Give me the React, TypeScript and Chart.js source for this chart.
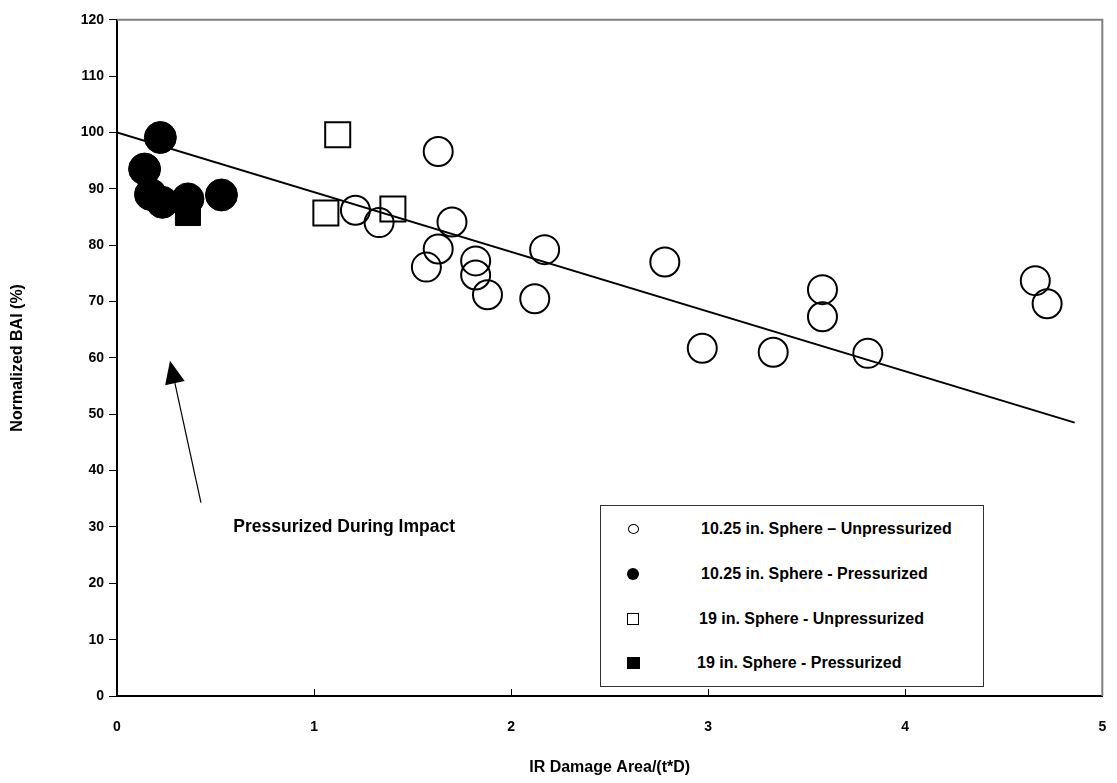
import React, { useEffect, useRef } from "react";
import { Chart, registerables } from "chart.js";

Chart.register(...registerables);

// ---- Data ----
const unpress10X = [1.21, 1.33, 1.63, 1.70, 1.63, 1.57, 1.82, 1.82, 1.88, 2.12, 2.17, 2.78, 2.97, 3.33, 3.58, 3.58, 3.81, 4.66, 4.72];
const unpress10Y = [86.2, 84.0, 96.6, 84.1, 79.3, 76.1, 77.2, 74.7, 71.2, 70.5, 79.2, 77.0, 61.7, 61.0, 72.1, 67.3, 60.8, 73.7, 69.6];

const press10X = [0.22, 0.14, 0.17, 0.23, 0.36, 0.53];
const press10Y = [99.1, 93.5, 89.0, 87.6, 88.2, 88.9];

const unpress19X = [1.12, 1.06, 1.40];
const unpress19Y = [99.6, 85.7, 86.4];

const press19X = [0.36];
const press19Y = [85.7];

const trendX = [0, 4.86];
const trendY = [100, 48.5];

const xTickValues = [0, 1, 2, 3, 4, 5];
const yTickValues = [0, 10, 20, 30, 40, 50, 60, 70, 80, 90, 100, 110, 120];

const seriesLabels = [
  "10.25 in. Sphere \u2013 Unpressurized",
  "10.25 in. Sphere - Pressurized",
  "19 in. Sphere - Unpressurized",
  "19 in. Sphere - Pressurized",
];

const xTitle = "IR Damage Area/(t*D)";
const yTitle = "Normalized BAI (%)";
const noteText = "Pressurized During Impact";
const noteAt = [0.59, 30];
const arrowTail = [0.426, 34.3];
const arrowTip = [0.269, 59.5];

const FONT = "'Liberation Sans', Arial, sans-serif";

const toPoints = (xs: number[], ys: number[]) => xs.map((x, i) => ({ x, y: ys[i] }));

const decorPlugin = {
  id: "decor",
  afterDraw(chart: any) {
    const { ctx, chartArea, scales } = chart;
    const xs = scales.x;
    const ys = scales.y;
    ctx.save();
    // top and right frame (gray)
    ctx.strokeStyle = "#808080";
    ctx.lineWidth = 2;
    ctx.beginPath();
    ctx.moveTo(chartArea.left, chartArea.top);
    ctx.lineTo(chartArea.right, chartArea.top);
    ctx.lineTo(chartArea.right, chartArea.bottom);
    ctx.stroke();
    // inward x tick marks
    ctx.strokeStyle = "#000";
    ctx.lineWidth = 1;
    xTickValues.forEach((v) => {
      if (v === 0 || v === 5) return;
      const px = Math.round(xs.getPixelForValue(v)) + 0.5;
      ctx.beginPath();
      ctx.moveTo(px, chartArea.bottom);
      ctx.lineTo(px, chartArea.bottom - 7);
      ctx.stroke();
    });
    // arrow
    const tx = xs.getPixelForValue(arrowTail[0]);
    const ty = ys.getPixelForValue(arrowTail[1]);
    const hx = xs.getPixelForValue(arrowTip[0]);
    const hy = ys.getPixelForValue(arrowTip[1]);
    const ang = Math.atan2(hy - ty, hx - tx);
    const headLen = 23;
    const headHalf = 10;
    const bx = hx - headLen * Math.cos(ang);
    const by = hy - headLen * Math.sin(ang);
    ctx.lineWidth = 1.2;
    ctx.beginPath();
    ctx.moveTo(tx, ty);
    ctx.lineTo(bx, by);
    ctx.stroke();
    ctx.fillStyle = "#000";
    ctx.beginPath();
    ctx.moveTo(hx, hy);
    ctx.lineTo(bx + headHalf * Math.sin(ang), by - headHalf * Math.cos(ang));
    ctx.lineTo(bx - headHalf * Math.sin(ang), by + headHalf * Math.cos(ang));
    ctx.closePath();
    ctx.fill();
    // annotation text
    ctx.font = `bold 17.5px ${FONT}`;
    ctx.textAlign = "left";
    ctx.textBaseline = "middle";
    ctx.fillText(noteText, xs.getPixelForValue(noteAt[0]), ys.getPixelForValue(noteAt[1]));
    ctx.restore();
  },
};

function LegendMarker({ kind }: { kind: number }) {
  const base: React.CSSProperties = { position: "absolute", boxSizing: "border-box" };
  if (kind === 0)
    return <span style={{ ...base, left: -5, top: -5, width: 11, height: 10, border: "1.5px solid #000", borderRadius: "50%", background: "#fff" }} />;
  if (kind === 1)
    return <span style={{ ...base, left: -6, top: -6, width: 12, height: 12, borderRadius: "50%", background: "#000" }} />;
  if (kind === 2)
    return <span style={{ ...base, left: -6, top: -6, width: 12, height: 12, border: "1.5px solid #000", background: "#fff" }} />;
  return <span style={{ ...base, left: -6, top: -6, width: 13, height: 12, background: "#000" }} />;
}

export default function App() {
  const canvasRef = useRef<HTMLCanvasElement | null>(null);

  useEffect(() => {
    const canvas = canvasRef.current;
    if (!canvas) return;
    const chart = new Chart(canvas, {
      type: "scatter",
      data: {
        datasets: [
          {
            label: seriesLabels[1],
            data: toPoints(press10X, press10Y),
            pointStyle: "circle",
            pointRadius: 16,
            backgroundColor: "#000",
            borderColor: "#000",
            borderWidth: 1,
            order: 1,
          },
          {
            label: seriesLabels[3],
            data: toPoints(press19X, press19Y),
            pointStyle: "rect",
            pointRadius: 17.7,
            backgroundColor: "#000",
            borderColor: "#000",
            borderWidth: 1,
            order: 2,
          },
          {
            label: seriesLabels[0],
            data: toPoints(unpress10X, unpress10Y),
            pointStyle: "circle",
            pointRadius: 14.5,
            backgroundColor: "rgba(0,0,0,0)",
            borderColor: "#000",
            borderWidth: 2,
            order: 3,
          },
          {
            label: seriesLabels[2],
            data: toPoints(unpress19X, unpress19Y),
            pointStyle: "rect",
            pointRadius: 17.7,
            backgroundColor: "rgba(0,0,0,0)",
            borderColor: "#000",
            borderWidth: 2,
            order: 4,
          },
          {
            type: "line",
            label: "trend",
            data: toPoints(trendX, trendY),
            borderColor: "#000",
            borderWidth: 2,
            pointRadius: 0,
            fill: false,
            order: 5,
          } as any,
        ],
      },
      options: {
        animation: false,
        responsive: false,
        layout: { padding: { top: 17, right: 9, left: 0, bottom: 0 } },
        plugins: {
          legend: { display: false },
          tooltip: { enabled: false },
        },
        scales: {
          x: {
            type: "linear",
            min: 0,
            max: 5,
            afterFit: (s: any) => {
              s.height = 87;
              s.paddingRight = 4;
              s.paddingLeft = 4;
            },
            afterBuildTicks: (s: any) => {
              s.ticks = xTickValues.map((v) => ({ value: v }));
            },
            ticks: {
              color: "#000",
              font: { family: FONT, size: 14, weight: "bold" },
              padding: 23,
              maxRotation: 0,
            },
            grid: { drawOnChartArea: false, drawTicks: false },
            border: { color: "#000", width: 2 },
            title: {
              display: true,
              text: xTitle,
              color: "#000",
              font: { family: FONT, size: 16, weight: "bold" },
              padding: { top: 0, bottom: 6 },
            },
          },
          y: {
            type: "linear",
            min: 0,
            max: 120,
            afterFit: (s: any) => {
              s.width = 117;
            },
            afterBuildTicks: (s: any) => {
              s.ticks = yTickValues.map((v) => ({ value: v }));
            },
            ticks: {
              color: "#000",
              font: { family: FONT, size: 14, weight: "bold" },
              padding: 5,
            },
            grid: { drawOnChartArea: false, drawTicks: true, tickLength: 8, color: "#000" },
            border: { color: "#000", width: 2 },
            title: {
              display: true,
              text: yTitle,
              color: "#000",
              font: { family: FONT, size: 16, weight: "bold" },
              padding: { top: 8, bottom: 0 },
            },
          },
        },
      },
      plugins: [decorPlugin],
    });
    return () => chart.destroy();
  }, []);

  const rowY = [23, 68, 113, 157];
  return (
    <div style={{ position: "absolute", left: 0, top: 0, width: 1117, height: 783, background: "#fff", overflow: "hidden" }}>
      <canvas ref={canvasRef} width={1122} height={783} style={{ display: "block" }} />
      <div
        style={{
          position: "absolute",
          left: 600,
          top: 505,
          width: 384,
          height: 182,
          boxSizing: "border-box",
          border: "1.5px solid #333",
          background: "#fff",
          fontFamily: FONT,
          fontWeight: "bold",
          fontSize: 16,
          color: "#000",
        }}
      >
        {seriesLabels.map((lab, i) => (
          <div key={i} style={{ position: "absolute", left: 0, top: rowY[i], width: "100%", height: 0 }}>
            <div style={{ position: "absolute", left: 32, top: 0 }}>
              <LegendMarker kind={i} />
            </div>
            <span style={{ position: "absolute", left: 100 - (i >= 2 ? i - 1 : 0) * 2, top: -10, lineHeight: "20px", whiteSpace: "nowrap" }}>{lab}</span>
          </div>
        ))}
      </div>
    </div>
  );
}
